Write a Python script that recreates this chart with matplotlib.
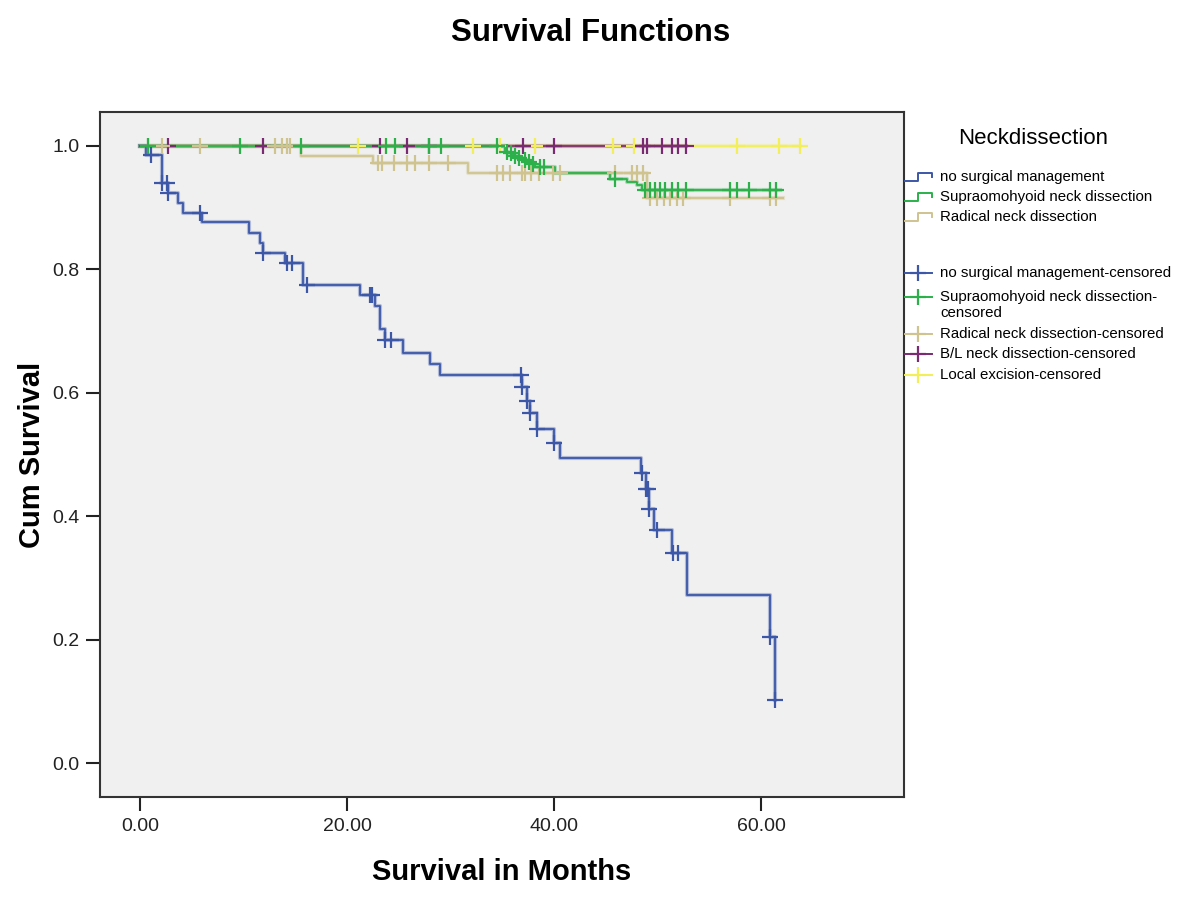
import matplotlib
matplotlib.use("Agg")
import matplotlib.pyplot as plt
import numpy as np

plt.rcParams['font.family'] = ['Liberation Sans', 'DejaVu Sans']

# step functions: time of each step (months) and survival after the step
none_t = [0, 0.6, 2.1, 2.7, 3.7, 4.2, 6.0, 10.5, 11.6, 11.9, 14.0, 15.8, 21.3, 22.7, 23.2, 23.7,
          25.4, 28.0, 29.0, 36.9, 37.4, 37.7, 38.4, 40.0, 40.6, 48.4, 48.9, 49.2, 49.7, 51.4,
          52.8, 60.9, 61.35]
none_s = [1.0, 0.985, 0.940, 0.923, 0.908, 0.892, 0.876, 0.859, 0.843, 0.826, 0.810, 0.775,
          0.758, 0.740, 0.703, 0.686, 0.665, 0.647, 0.629, 0.610, 0.586, 0.567, 0.542, 0.519,
          0.494, 0.470, 0.444, 0.411, 0.378, 0.340, 0.272, 0.204, 0.102]
none_end = 61.35
none_cens = [1.1, 2.1, 2.6, 2.7, 5.8, 11.9, 14.2, 14.7, 16.1, 22.2, 22.4, 23.7, 24.3, 36.8, 36.9,
             37.4, 37.7, 38.4, 40.0, 48.5, 48.9, 49.1, 49.2, 49.9, 51.5, 52.0, 60.9, 61.35]

som_t = [0, 35.3, 35.6, 36.0, 36.4, 37.0, 37.4, 37.8, 38.2, 40.1, 45.4, 47.0, 48.0, 48.5]
som_s = [1.0, 0.991, 0.988, 0.984, 0.980, 0.977, 0.974, 0.970, 0.966, 0.956, 0.947, 0.942,
         0.937, 0.929]
som_end = 61.8
som_cens = [0.8, 9.7, 15.6, 23.8, 24.6, 27.9, 29.1, 34.5, 35.5, 35.8, 36.2, 36.6, 37.2, 37.6,
            38.0, 38.6, 39.0, 45.9, 48.8, 49.3, 49.8, 50.2, 50.7, 51.4, 52.0, 52.7, 57.0, 57.7,
            58.8, 60.9, 61.4]

rad_t = [0, 15.6, 22.5, 31.7, 49.0]
rad_s = [1.0, 0.984, 0.972, 0.957, 0.915]
rad_end = 62.1
rad_cens = [0.8, 2.1, 5.8, 13.0, 13.7, 14.2, 14.5, 23.0, 23.4, 24.5, 25.8, 26.6, 27.9, 29.8,
            34.5, 35.1, 35.7, 36.9, 37.2, 37.8, 38.5, 39.9, 40.6, 45.9, 47.5, 48.0, 48.6, 49.3,
            49.9, 50.6, 51.2, 51.9, 52.5, 57.0, 60.9, 61.4]

bl_t = [0]
bl_s = [1.0]
bl_end = 52.7
bl_cens = [2.7, 11.9, 23.2, 25.8, 27.9, 37.0, 40.0, 48.6, 49.0, 50.4, 51.4, 52.0, 52.7]

loc_t = [0]
loc_s = [1.0]
loc_end = 63.8
loc_cens = [21.1, 23.8, 32.2, 34.8, 38.2, 45.7, 47.7, 57.7, 61.7, 63.8]

names = ["no surgical management", "Supraomohyoid neck dissection", "Radical neck dissection",
         "B/L neck dissection", "Local excision"]
colors = ["#3c57a8", "#2bb04a", "#cfc48f", "#7a2a72", "#f2ef5a"]


def level_at(t, s, c):
    idx = np.searchsorted(t, c, side='right') - 1
    return np.array(s)[idx]


fig = plt.figure(figsize=(12, 9.02), dpi=100)
ax = fig.add_axes([0.0833, 0.1164, 0.67, 0.7594])
ax.set_facecolor("#f0f0f0")

groups = [
    (loc_t, loc_s, loc_end, loc_cens, colors[4]),
    (bl_t, bl_s, bl_end, bl_cens, colors[3]),
    (rad_t, rad_s, rad_end, rad_cens, colors[2]),
    (som_t, som_s, som_end, som_cens, colors[1]),
    (none_t, none_s, none_end, none_cens, colors[0]),
]
for t, s, end, cens, col in groups:
    xs = list(t) + [end]
    ys = list(s) + [s[-1]]
    ax.step(xs, ys, where='post', color=col, lw=3.0, alpha=0.35, zorder=2)
    ax.step(xs, ys, where='post', color=col, lw=1.3, zorder=3)
    ax.plot(cens, level_at(t, s, cens), ls='none', marker='+', ms=11, mew=1.6,
            color=col, zorder=4)

ax.set_xlim(-3.86, 73.8)
ax.set_ylim(-0.055, 1.055)
ax.set_xticks([0, 20, 40, 60])
ax.set_xticklabels(["0.00", "20.00", "40.00", "60.00"])
ax.set_yticks([0, 0.2, 0.4, 0.6, 0.8, 1.0])
ax.set_yticklabels(["0.0", "0.2", "0.4", "0.6", "0.8", "1.0"])
ax.tick_params(direction='out', length=10, width=1.5, labelsize=14, pad=5, colors='#222222')
for sp in ax.spines.values():
    sp.set_color('#333333')
    sp.set_linewidth(1.5)

ax.set_xlabel("Survival in Months", fontsize=21, fontweight='bold', labelpad=17)
ax.set_ylabel("Cum Survival", fontsize=21, fontweight='bold', labelpad=4)
fig.text(0.492, 0.963, "Survival Functions", fontsize=22.5, fontweight='bold',
         ha='center', va='center')

# legend drawn in pixel coordinates
lax = fig.add_axes([0, 0, 1, 1], facecolor='none')
lax.set_xlim(0, 1200)
lax.set_ylim(902, 0)
lax.axis('off')
lax.text(1033, 138, "Neckdissection", fontsize=16, ha='center', va='center')

step_rows = [177, 197, 217]
for y, col, name in zip(step_rows, colors[:3], names[:3]):
    lax.plot([905, 918, 918, 932, 932], [y + 4, y + 4, y - 4, y - 4, y], color=col, lw=1.4)
    lax.text(940, y, name, fontsize=10.8, va='center')

cens_rows = [273, 305, 334, 354, 375]
cens_labels = [names[0] + "-censored", names[1] + "-\ncensored", names[2] + "-censored",
               names[3] + "-censored", names[4] + "-censored"]
for y, col, lab in zip(cens_rows, colors, cens_labels):
    yy = y - 8 if "\n" in lab else y
    lax.plot([905, 932], [yy, yy], color=col, lw=1.4)
    lax.plot([918], [yy], marker='+', ms=11, mew=1.6, color=col)
    lax.text(940, y, lab, fontsize=10.8, va='center', linespacing=1.2)

fig.savefig("out.png", dpi=100)
